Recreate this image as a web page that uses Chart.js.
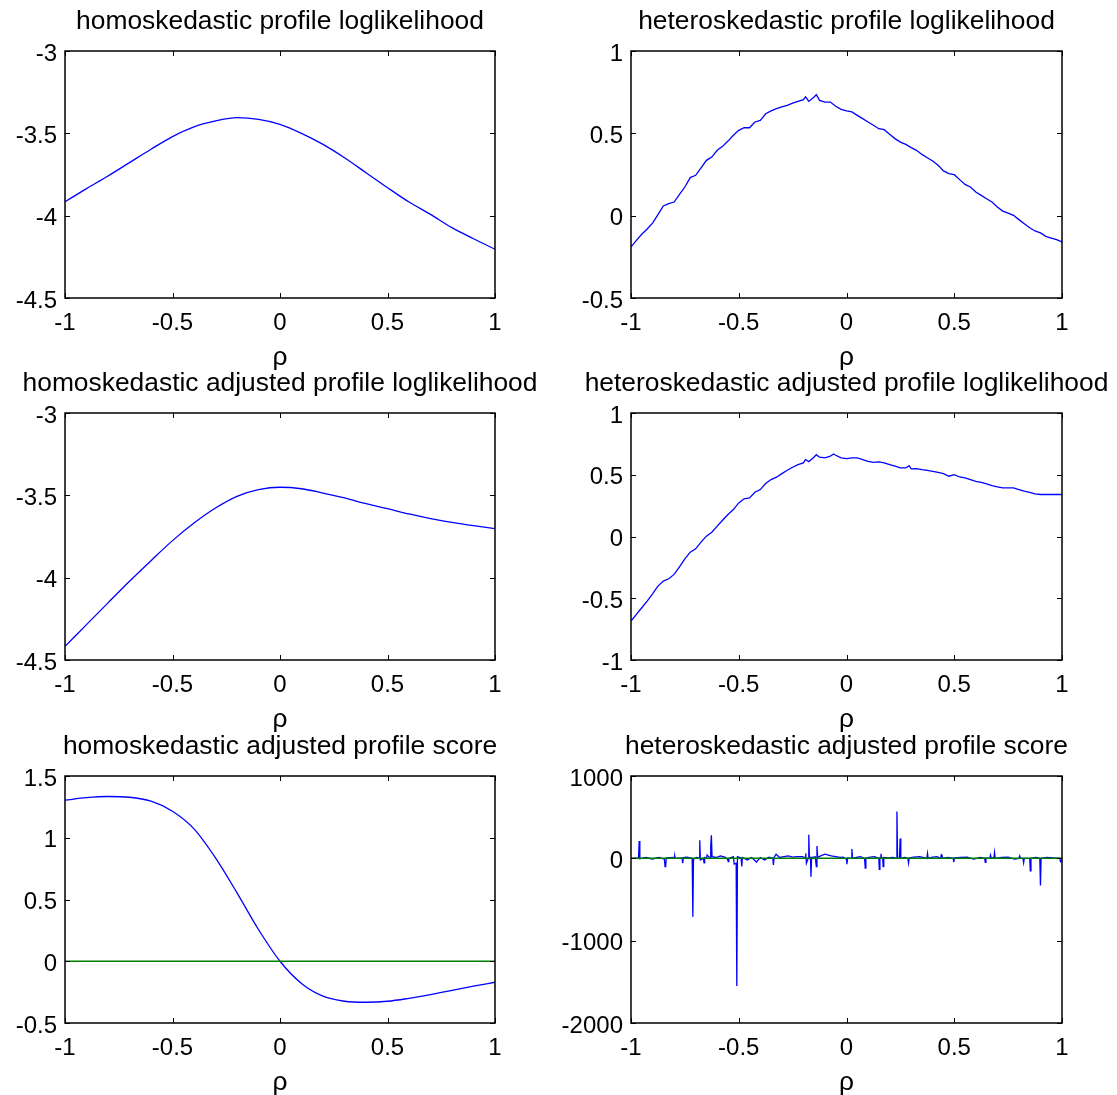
<!DOCTYPE html>
<html>
<head>
<meta charset="utf-8">
<script src="https://cdn.jsdelivr.net/npm/chart.js@4"></script>
<style>
  html, body { margin: 0; padding: 0; background: #fff; overflow: hidden; }
  #fig { position: relative; width: 1117px; height: 1095px; }
  #fig canvas { position: absolute; }
</style>
</head>
<body>
<div id="fig">
  <canvas id="c1" width="555" height="374" style="left:0;top:0"></canvas>
  <canvas id="c2" width="557" height="374" style="left:560px;top:0"></canvas>
  <canvas id="c3" width="555" height="374" style="left:0;top:362px"></canvas>
  <canvas id="c4" width="557" height="374" style="left:560px;top:362px"></canvas>
  <canvas id="c5" width="555" height="374" style="left:0;top:725px"></canvas>
  <canvas id="c6" width="557" height="374" style="left:560px;top:725px"></canvas>
</div>
<script>
// --- rho grid for the smooth (homoskedastic) curves ---
const rhoGrid = [-1, -0.9, -0.8, -0.7, -0.6, -0.5, -0.4, -0.3, -0.2, -0.1, 0,
                 0.1, 0.2, 0.3, 0.4, 0.5, 0.6, 0.7, 0.8, 0.9, 1];

const homoProfile = [-3.915, -3.836, -3.759, -3.678, -3.597, -3.52, -3.461, -3.425, -3.405, -3.415, -3.445,
                     -3.50, -3.567, -3.648, -3.739, -3.83, -3.917, -3.992, -4.073, -4.14, -4.204];

const homoAdjusted = [-4.417, -4.285, -4.153, -4.022, -3.897, -3.775, -3.668, -3.577, -3.506, -3.466, -3.451,
                      -3.46, -3.486, -3.516, -3.551, -3.581, -3.613, -3.641, -3.664, -3.684, -3.702];

const homoScore = [1.304, 1.325, 1.334, 1.328, 1.296, 1.215, 1.072, 0.837, 0.554, 0.257, 0.0,
                   -0.18, -0.283, -0.324, -0.332, -0.324, -0.30, -0.27, -0.235, -0.202, -0.17];

// --- heteroskedastic profile loglikelihood ---
const heteroProfileRho = [-1, -0.975, -0.95, -0.925, -0.9, -0.875, -0.85, -0.825, -0.8, -0.775, -0.75, -0.725,
  -0.7, -0.675, -0.65, -0.625, -0.6, -0.575, -0.55, -0.525, -0.5, -0.475, -0.45, -0.425, -0.4, -0.375, -0.35,
  -0.325, -0.3, -0.275, -0.25, -0.225, -0.2, -0.19, -0.175, -0.15, -0.14, -0.125, -0.1, -0.075, -0.05, -0.025,
  0, 0.025, 0.05, 0.075, 0.1, 0.125, 0.15, 0.175, 0.2, 0.225, 0.25, 0.275, 0.3, 0.325, 0.35, 0.375, 0.4, 0.425,
  0.45, 0.475, 0.5, 0.525, 0.55, 0.575, 0.6, 0.625, 0.65, 0.675, 0.7, 0.725, 0.75, 0.775, 0.8, 0.825, 0.85,
  0.875, 0.9, 0.925, 0.95, 0.975, 1];
const heteroProfile = [-0.19, -0.15, -0.113, -0.081, -0.045, 0.006, 0.059, 0.073, 0.083, 0.13, 0.174, 0.231,
  0.245, 0.29, 0.336, 0.356, 0.397, 0.421, 0.453, 0.488, 0.518, 0.534, 0.534, 0.569, 0.579, 0.619, 0.636,
  0.65, 0.66, 0.67, 0.684, 0.694, 0.704, 0.721, 0.694, 0.721, 0.735, 0.70, 0.69, 0.69, 0.664, 0.646,
  0.636, 0.63, 0.609, 0.589, 0.569, 0.549, 0.528, 0.522, 0.494, 0.468, 0.447, 0.433, 0.413, 0.397, 0.372, 0.352, 0.332, 0.306,
  0.272, 0.256, 0.249, 0.219, 0.19, 0.174, 0.144, 0.123, 0.103, 0.083, 0.053, 0.028, 0.016, 0.002, -0.024, -0.049, -0.073,
  -0.093, -0.105, -0.126, -0.136, -0.146, -0.16];

// --- heteroskedastic adjusted profile loglikelihood ---
const heteroAdjRho = [-1, -0.975, -0.95, -0.925, -0.9, -0.875, -0.85, -0.825, -0.8, -0.775, -0.75, -0.725,
  -0.7, -0.675, -0.65, -0.625, -0.6, -0.575, -0.55, -0.525, -0.5, -0.475, -0.45, -0.425, -0.4, -0.375, -0.35,
  -0.325, -0.3, -0.275, -0.25, -0.225, -0.2, -0.19, -0.175, -0.15, -0.14, -0.125, -0.1, -0.075, -0.06, -0.05, -0.025,
  0, 0.025, 0.05, 0.075, 0.1, 0.125, 0.15, 0.175, 0.2, 0.225, 0.25, 0.275, 0.29, 0.3, 0.325, 0.35, 0.375, 0.4, 0.425,
  0.45, 0.475, 0.5, 0.525, 0.55, 0.575, 0.6, 0.625, 0.65, 0.675, 0.7, 0.725, 0.75, 0.775, 0.8, 0.825, 0.85,
  0.875, 0.9, 0.925, 0.95, 0.975, 1];
const heteroAdjusted = [-0.685, -0.631, -0.577, -0.523, -0.464, -0.402, -0.361, -0.342, -0.307, -0.245, -0.181, -0.127,
  -0.10, -0.046, 0.003, 0.035, 0.084, 0.132, 0.178, 0.218, 0.272, 0.305, 0.313, 0.358, 0.38, 0.429, 0.461,
  0.48, 0.509, 0.536, 0.561, 0.582, 0.596, 0.623, 0.606, 0.644, 0.663, 0.642, 0.636, 0.65, 0.668, 0.658, 0.636,
  0.631, 0.636, 0.636, 0.623, 0.609, 0.601, 0.604, 0.596, 0.582, 0.569, 0.555, 0.555, 0.574, 0.547, 0.55, 0.542, 0.536, 0.528, 0.52,
  0.509, 0.488, 0.501, 0.482, 0.474, 0.461, 0.447, 0.439, 0.426, 0.412, 0.402, 0.394, 0.394, 0.394, 0.38, 0.367, 0.358,
  0.345, 0.34, 0.34, 0.34, 0.34, 0.34];

// --- heteroskedastic adjusted profile score (spiky) ---
const heteroScoreRho = [-1, -0.965, -0.962, -0.959, -0.93, -0.9, -0.87, -0.845, -0.842, -0.839, -0.836,
  -0.8, -0.797, -0.794, -0.763, -0.76, -0.757, -0.74, -0.716, -0.713, -0.71, -0.695, -0.684, -0.681, -0.678,
  -0.664, -0.661, -0.658, -0.649, -0.647, -0.633, -0.63, -0.627, -0.624, -0.605, -0.585, -0.565, -0.552, -0.549,
  -0.546, -0.525, -0.521, -0.512, -0.509, -0.506, -0.489, -0.486, -0.483, -0.46, -0.44, -0.418, -0.4, -0.38,
  -0.36, -0.342, -0.339, -0.336, -0.327, -0.31, -0.29, -0.27, -0.25, -0.23, -0.205, -0.192, -0.189, -0.186,
  -0.178, -0.175, -0.172, -0.167, -0.165, -0.162, -0.145, -0.14, -0.137, -0.134, -0.12, -0.1, -0.084, -0.07,
  -0.05, -0.03, -0.015, 0, 0.002, 0.005, 0.022, 0.025, 0.028, 0.045, 0.065, 0.084, 0.087, 0.09, 0.11, 0.13,
  0.15, 0.152, 0.155, 0.158, 0.16, 0.163, 0.168, 0.17, 0.173, 0.195, 0.215, 0.231, 0.234, 0.237, 0.246, 0.249,
  0.252, 0.27, 0.285, 0.288, 0.291, 0.31, 0.34, 0.373, 0.376, 0.379, 0.4, 0.42, 0.437, 0.44, 0.443, 0.446,
  0.47, 0.495, 0.498, 0.501, 0.53, 0.56, 0.59, 0.62, 0.641, 0.644, 0.647, 0.665, 0.668, 0.671, 0.684, 0.687,
  0.69, 0.72, 0.75, 0.78, 0.8, 0.804, 0.807, 0.819, 0.822, 0.825, 0.85, 0.853, 0.856, 0.88, 0.897, 0.9, 0.903,
  0.93, 0.96, 0.99, 0.993, 1];
const heteroScore = [0, 5, 210, -5, 10, -8, 12, -10, -100, -90, 5,
  10, 30, 0, 5, -60, 8, 15, 0, -710, -10, 10, 5, 220, -20,
  0, -55, 10, 0, 40, 5, 150, 280, 20, 10, 30, 15, -10, -40,
  0, 20, -70, -60, -1550, 20, 5, -100, 10, -20, 10, -45, 10, -20,
  15, 0, -80, 10, 50, 10, 20, 30, 15, 20, 20, 10, 60, -60,
  0, 285, 0, 10, -225, 10, 20, -100, 150, 10, 30, 50, 40, 30,
  20, 10, 15, -10, -72, 5, 0, 112, 0, 10, 20, 0, -120, 5, 15, 20,
  0, -135, 5, 0, 55, 0, 5, -100, 10, 5, 10, 0, 570, 0, 0, 240,
  0, 10, 0, -55, 5, 15, 20, 0, 60, 0, 15, 20, 0, 45, 40, 0,
  10, 0, -45, 5, 10, 15, -10, 10, 0, -50, 5, 0, 40, 10, 0, 70,
  0, 10, 15, -10, 0, 30, 0, 0, -52, 0, 0, -152, 0, 10, 0, -330, 0,
  10, 5, 0, -40, -20];

const zeroLineRho = [-1, 1];
const zeroLineVal = [0, 0];

// --- styling ---
const FONT = '"Liberation Sans", Arial, Helvetica, sans-serif';
const BLUE = 'rgb(0,0,255)';
const GREEN = 'rgb(0,128,0)';
Chart.defaults.color = '#000';
Chart.defaults.font.family = FONT;

const toPoints = (xs, ys) => xs.map((x, i) => ({ x: x, y: ys[i] }));

// box round the axes with inward ticks on all four sides, like MATLAB
const boxPlugin = {
  id: 'matlabBox',
  afterDraw(chart) {
    const { ctx, chartArea: a, scales: { x, y } } = chart;
    ctx.save();
    ctx.strokeStyle = '#000';
    ctx.lineWidth = 1;
    ctx.beginPath();
    x.ticks.forEach(t => {
      const px = Math.round(x.getPixelForValue(t.value)) + 0.5;
      ctx.moveTo(px, a.bottom); ctx.lineTo(px, a.bottom - 5);
      ctx.moveTo(px, a.top); ctx.lineTo(px, a.top + 5);
    });
    y.ticks.forEach(t => {
      const py = Math.round(y.getPixelForValue(t.value)) + 0.5;
      ctx.moveTo(a.left, py); ctx.lineTo(a.left + 5, py);
      ctx.moveTo(a.right, py); ctx.lineTo(a.right - 5, py);
    });
    ctx.stroke();
    ctx.lineWidth = 1.5;
    ctx.strokeRect(a.left, a.top, a.right - a.left, a.bottom - a.top);
    ctx.restore();
  }
};

// title centred over the plot box (not the whole canvas)
const axesTitle = {
  id: 'axesTitle',
  afterDraw(chart, args, opts) {
    const { ctx, chartArea: a } = chart;
    ctx.save();
    ctx.fillStyle = '#000';
    ctx.font = '26.4px ' + FONT;
    ctx.textAlign = 'center';
    ctx.textBaseline = 'middle';
    ctx.fillText(opts.text, (a.left + a.right) / 2, a.top - 29.2);
    ctx.restore();
  }
};

function makeChart(id, title, datasets, yMin, yMax, yStep, yAxisWidth, padRight) {
  new Chart(document.getElementById(id), {
    type: 'line',
    data: { datasets: datasets },
    plugins: [boxPlugin, axesTitle],
    options: {
      responsive: false,
      animation: false,
      layout: { padding: { top: 51, right: padRight, bottom: 0, left: 0 } },
      plugins: {
        legend: { display: false },
        tooltip: { enabled: false },
        title: { display: false },
        axesTitle: { text: title }
      },
      scales: {
        x: {
          type: 'linear',
          min: -1, max: 1,
          grid: { display: false, drawTicks: false },
          border: { display: false },
          ticks: {
            stepSize: 0.5, padding: 11, maxRotation: 0,
            font: { family: FONT, size: 24 },
            callback: v => String(Math.round(v * 1000) / 1000)
          },
          title: {
            display: true, text: 'ρ', color: '#000',
            font: { family: FONT, size: 26.4 },
            padding: { top: 0, bottom: 0 }
          },
          afterFit: s => { s.height = 76; }
        },
        y: {
          type: 'linear',
          min: yMin, max: yMax,
          grid: { display: false, drawTicks: false },
          border: { display: false },
          ticks: {
            stepSize: yStep, padding: 8, labelOffset: 3,
            font: { family: FONT, size: 24 },
            callback: v => String(Math.round(v * 1000) / 1000)
          },
          afterFit: s => { s.width = yAxisWidth; }
        }
      }
    }
  });
}

const blueLine = (pts, smooth) => ({
  data: pts, borderColor: BLUE, borderWidth: 1.3, pointRadius: 0,
  cubicInterpolationMode: smooth ? 'monotone' : 'default', tension: 0, order: 1
});
const greenLine = () => ({
  data: toPoints(zeroLineRho, zeroLineVal), borderColor: GREEN, borderWidth: 1.5,
  pointRadius: 0, tension: 0, order: 0
});

makeChart('c1', 'homoskedastic profile loglikelihood',
  [blueLine(toPoints(rhoGrid, homoProfile), true)], -4.5, -3, 0.5, 65, 60);
makeChart('c2', 'heteroskedastic profile loglikelihood',
  [blueLine(toPoints(heteroProfileRho, heteroProfile), false)], -0.5, 1, 0.5, 71, 55);
makeChart('c3', 'homoskedastic adjusted profile loglikelihood',
  [blueLine(toPoints(rhoGrid, homoAdjusted), true)], -4.5, -3, 0.5, 65, 60);
makeChart('c4', 'heteroskedastic adjusted profile loglikelihood',
  [blueLine(toPoints(heteroAdjRho, heteroAdjusted), false)], -1, 1, 0.5, 71, 55);
makeChart('c5', 'homoskedastic adjusted profile score',
  [blueLine(toPoints(rhoGrid, homoScore), true), greenLine()], -0.5, 1.5, 0.5, 65, 60);
makeChart('c6', 'heteroskedastic adjusted profile score',
  [blueLine(toPoints(heteroScoreRho, heteroScore), false), greenLine()], -2000, 1000, 1000, 71, 55);
</script>
</body>
</html>
